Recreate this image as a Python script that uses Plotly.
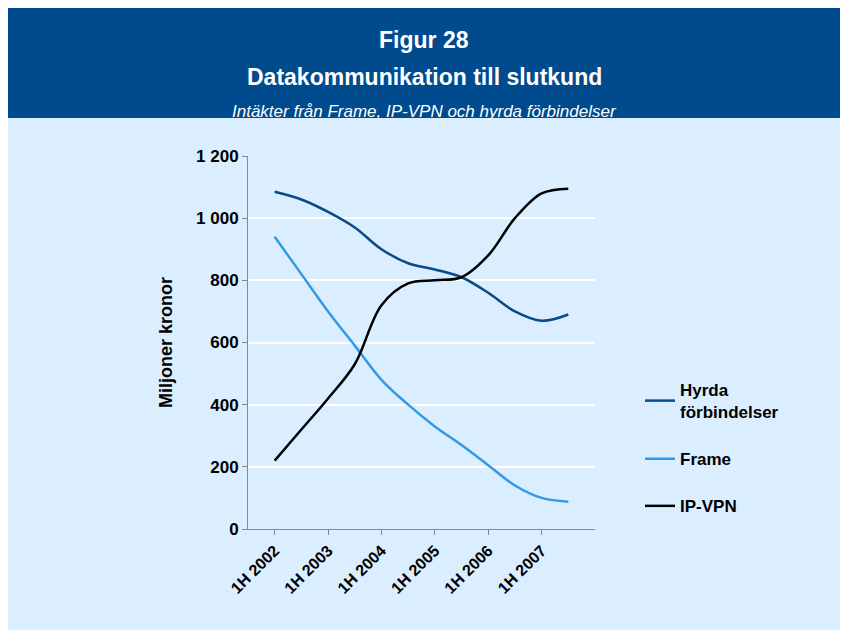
import plotly.graph_objects as go

periods = ["1H 2002","2H 2002","1H 2003","2H 2003","1H 2004","2H 2004","1H 2005","2H 2005","1H 2006","2H 2006","1H 2007","2H 2007"]
tick_labels = ["1H 2002","1H 2003","1H 2004","1H 2005","1H 2006","1H 2007"]
hyrda = [1085,1060,1020,970,900,855,835,810,760,700,670,690]
frame = [940,820,700,590,480,400,330,270,205,140,100,88]
ipvpn = [220,320,420,530,720,790,800,810,880,1000,1080,1095]

fig = go.Figure()
for i, (name, ys, col) in enumerate([("<b>Hyrda<br>förbindelser</b>", hyrda, "#0a4a85"), ("<b>Frame</b>", frame, "#3399e6"), ("<b>IP-VPN</b>", ipvpn, "#000000")]):
    fig.add_trace(go.Scatter(x=periods, y=ys, name=name, mode="lines", legendgroup=str(i),
                             line=dict(color=col, width=2.5, shape="spline")))

W, H = 840, 622
L, T, R, B = 240, 148, 253, 101
pw, ph = W - L - R, H - T - B
def px(x): return (x - 8 - L) / pw
def py(y): return (H - B - (y - 8)) / ph

fig.update_layout(
    width=W, height=H, paper_bgcolor="#dbeeff", plot_bgcolor="#dbeeff",
    margin=dict(l=L, r=R, t=T, b=B),
    font=dict(family="Liberation Sans, Arial", color="black"),
    showlegend=True,
    legend=dict(x=px(640), y=py(372), xanchor="left", yanchor="top", bgcolor="rgba(0,0,0,0)",
                font=dict(size=17, family="Liberation Sans, Arial"), tracegroupgap=22),
    xaxis=dict(type="category", range=[-1, 12], tickmode="array", tickvals=tick_labels,
               ticktext=["<b>%s</b>" % t for t in tick_labels],
               tickangle=-45, tickfont=dict(size=16, family="Liberation Sans, Arial"),
               showgrid=False, showline=True, linecolor="#888", ticks="outside", ticklen=5, tickcolor="#888"),
    yaxis=dict(range=[0, 1200], tickmode="array", tickvals=[0,200,400,600,800,1000,1200],
               ticktext=["<b>0</b>","<b>200</b>","<b>400</b>","<b>600</b>","<b>800</b>","<b>1 000</b>","<b>1 200</b>"],
               tickfont=dict(size=17, family="Liberation Sans, Arial"),
               showgrid=True, gridcolor="white", gridwidth=1.5, zeroline=False,
               showline=True, linecolor="#888", ticks="outside", ticklen=5, tickcolor="#888",
               title=dict(text="<b>Miljoner kronor</b>", font=dict(size=18), standoff=18)),
)
fig.add_shape(type="rect", xref="paper", yref="paper", x0=px(0), x1=px(848), y0=py(118), y1=py(0),
              line_width=0, fillcolor="#004b8d")
cx = px(424)
fig.add_annotation(text="<b>Figur 28</b>", xref="paper", yref="paper", x=cx, y=py(25),
                   showarrow=False, font=dict(size=23, color="white"))
fig.add_annotation(text="<b>Datakommunikation till slutkund</b>", xref="paper", yref="paper", x=cx, y=py(62),
                   showarrow=False, font=dict(size=23, color="white"))
fig.add_annotation(text="<i>Intäkter från Frame, IP-VPN och hyrda förbindelser</i>", xref="paper", yref="paper",
                   x=cx, y=py(100), showarrow=False, font=dict(size=17, color="white"))
fig.write_html("out.html")
